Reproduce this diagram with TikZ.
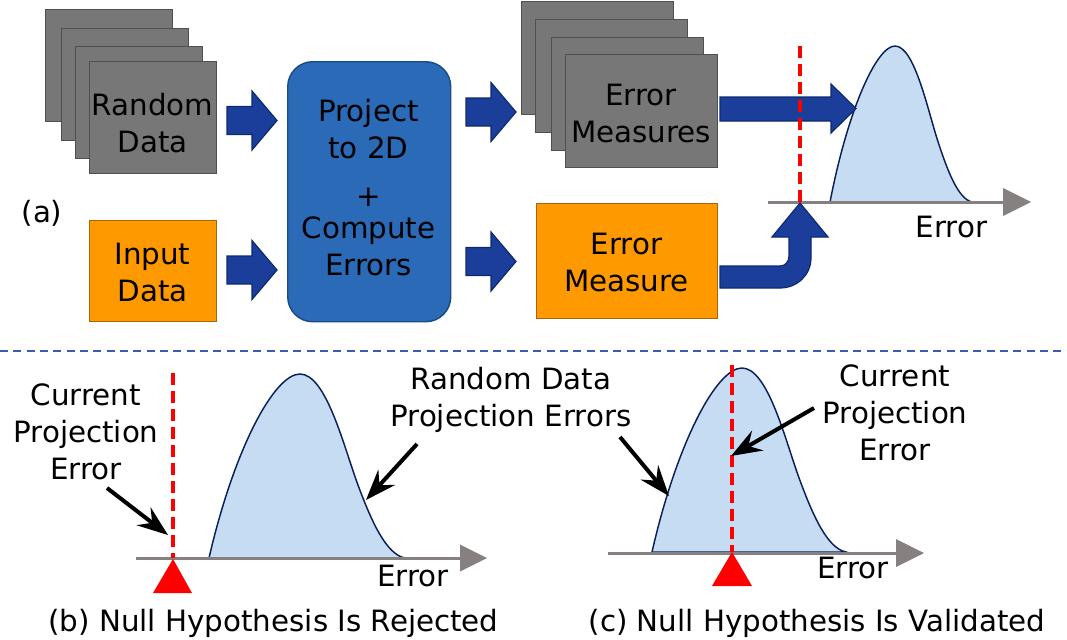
\documentclass[tikz,border=0pt]{standalone}
\usepackage{fontspec}
\setmainfont{DejaVu Sans}
\usetikzlibrary{arrows.meta}
\definecolor{boxgray}{HTML}{777777}
\definecolor{grayborder}{HTML}{505050}
\definecolor{orangefill}{HTML}{FF9900}
\definecolor{orangeborder}{HTML}{A8640A}
\definecolor{projfill}{HTML}{2A6AB6}
\definecolor{projborder}{HTML}{1B4C86}
\definecolor{arrfill}{HTML}{1A3E9A}
\definecolor{arrborder}{HTML}{0E2A6E}
\definecolor{bellfill}{HTML}{C5DCF2}
\definecolor{bellline}{HTML}{0B1F5B}
\definecolor{axisgray}{HTML}{868080}
\definecolor{sepblue}{HTML}{3A5BB0}
\newcommand{\blockarr}[2]{%
  \draw[barrow] (#1-50,#2-14) -- (#1-25,#2-14) -- (#1-25,#2-29.5) -- (#1,#2)
    -- (#1-25,#2+29.5) -- (#1-25,#2+14) -- (#1-50,#2+14) -- cycle;}
\newcommand{\bellcurve}[5]{%
  \draw[bell] (#1,#2) .. controls (#1+0.28*#3,#2-0.6*#5) and (#1+0.72*#3,#2-#5) .. (#1+#3,#2-#5)
    .. controls (#1+#3+0.25*#4,#2-#5) and (#1+#3+0.42*#4,#2-0.6*#5) .. (#1+#3+0.55*#4,#2-0.4*#5)
    .. controls (#1+#3+0.68*#4,#2-0.2*#5) and (#1+#3+0.82*#4,#2-0.02*#5) .. (#1+#3+#4,#2) -- cycle;}
\begin{document}
\begin{tikzpicture}[x=0.75pt,y=-0.75pt,
  sz/.style 2 args={minimum width=#1*0.75pt, minimum height=#2*0.75pt, anchor=north west, inner sep=0pt},
  graybox/.style={draw=grayborder, fill=boxgray, line width=1.1pt},
  orangebox/.style={draw=orangeborder, fill=orangefill, line width=1.1pt},
  projbox/.style={draw=projborder, fill=projfill, line width=1.1pt, rounded corners=18.75pt},
  barrow/.style={draw=arrborder, fill=arrfill, line width=0.9pt},
  bell/.style={draw=bellline, fill=bellfill, line width=1.1pt},
  axisline/.style={draw=axisgray, line width=2.25pt},
  axishead/.style={fill=axisgray},
  reddash/.style={draw=red, line width=2.7pt, dash pattern=on 9pt off 4.5pt},
  redtri/.style={fill=red},
  blk/.style={draw=black, line width=3pt, -{Stealth[length=23pt,width=17pt,inset=8pt]}},
  lbl/.style={align=center, inner sep=0pt, font=\fontsize{22}{27.75}\selectfont},
]
\useasboundingbox (0,0) rectangle (1067,639);

% ---------- (a) ----------
\node[lbl, anchor=base] (alabel) at (42,222) {(a)};

% Random data stack
\node[graybox, sz={127}{112}] (rd1) at (45,9) {};
\node[graybox, sz={127}{112}] (rd2) at (61,28) {};
\node[graybox, sz={127}{112}] (rd3) at (75,46) {};
\node[graybox, sz={127}{112}] (rd4) at (89,61) {};
\node[lbl] (rdtext) at (152.5,127) {\strut Random\\\strut Data};

% Input data
\node[orangebox, sz={127}{101}] (inbox) at (89,220) {};
\node[lbl] (intext) at (152.5,276) {\strut Input\\\strut Data};

% Projection box
\node[projbox, sz={163}{260}] (proj) at (287,61) {};
\node[lbl] (projtext1) at (368.5,133) {\strut Project\\\strut to 2D};
\node[lbl, anchor=base] (plus) at (368.5,206) {+};
\node[lbl] (projtext2) at (368.5,250) {\strut Compute\\\strut Errors};

% block arrows
\blockarr{277}{120.5}
\blockarr{277}{270}
\blockarr{516}{112}
\blockarr{516}{261.5}

% Error measures stack
\node[graybox, sz={152}{113}] (em1) at (521,1) {};
\node[graybox, sz={152}{113}] (em2) at (535,19) {};
\node[graybox, sz={152}{113}] (em3) at (551,37) {};
\node[graybox, sz={152}{113}] (em4) at (565,54) {};
\node[lbl] (emtext) at (641,117) {\strut Error\\\strut Measures};

% Error measure (orange)
\node[orangebox, sz={181}{115}] (embox) at (536,203) {};
\node[lbl] (embtext) at (626.5,266) {\strut Error\\\strut Measure};

% top distribution
\bellcurve{830}{202}{65}{77}{156}
\coordinate (ta0) at (768,202);
\coordinate (ta1) at (1004,202);
\draw[axisline] (ta0) -- (ta1);
\fill[axishead] (1003,188) -- (1031,202) -- (1003,216) -- cycle;
\node[lbl, anchor=base] (errtop) at (951.5,237) {Error};

% big arrow to distribution
\draw[barrow] (720,97) -- (831,97) -- (831,84) -- (856,108.5) -- (831,133) -- (831,121) -- (720,121) -- cycle;
% curved arrow
\draw[barrow] (720,266) -- (780,266) .. controls (785.5,266) and (789,261.5) .. (789,256) -- (789,237)
  -- (772,237) -- (800,203) -- (828,237) -- (811,237) -- (811,258)
  .. controls (811,275) and (797,288) .. (780,288) -- (720,288) -- cycle;
\coordinate (rt0) at (800,46);
\coordinate (rt1) at (800,202);
\draw[reddash] (rt0) -- (rt1);

% separator
\coordinate (s0) at (0,351);
\coordinate (s1) at (1067,351);
\draw[sepblue, line width=1.1pt, dash pattern=on 6pt off 4pt] (s0) -- (s1);

% ---------- (b) ----------
\bellcurve{209}{558}{91}{105}{184}
\coordinate (ba0) at (136,558);
\coordinate (ba1) at (461,558);
\draw[axisline] (ba0) -- (ba1);
\fill[axishead] (460,544.5) -- (487,558) -- (460,571.5) -- cycle;
\coordinate (bd0) at (173,373);
\coordinate (bd1) at (173,558);
\draw[reddash] (bd0) -- (bd1);
\fill[redtri] (173,559) -- (192,593) -- (153,593) -- cycle;
\node[lbl] (bcur) at (86,435) {\strut Current\\\strut Projection\\\strut Error};
\node[lbl] (rdpe) at (511,400.5) {\strut Random Data\\\strut Projection Errors};
\node[lbl, anchor=base] (berr) at (413,586) {Error};
\coordinate (bcs) at (107,488);
\coordinate (bce) at (168,535);
\draw[blk] (bcs) -- (bce);
\coordinate (brs) at (417,444);
\coordinate (bre) at (366,500);
\draw[blk] (brs) -- (bre);
\node[lbl, anchor=base] (bcap) at (273.5,631) {(b) Null Hypothesis Is Rejected};

% ---------- (c) ----------
\bellcurve{652}{552}{90}{104}{184}
\coordinate (ca0) at (608,553);
\coordinate (ca1) at (897,553);
\draw[axisline] (ca0) -- (ca1);
\fill[axishead] (896,539) -- (924,553) -- (896,567) -- cycle;
\coordinate (cd0) at (732,365);
\coordinate (cd1) at (732,552);
\draw[reddash] (cd0) -- (cd1);
\fill[redtri] (732,552) -- (752,586) -- (712,586) -- cycle;
\node[lbl] (ccur) at (895,416) {\strut Current\\\strut Projection\\\strut Error};
\node[lbl, anchor=base] (cerr) at (853,578) {Error};
\coordinate (crs) at (620,437);
\coordinate (cre) at (669,496);
\draw[blk] (crs) -- (cre);
\coordinate (ccs) at (814,408);
\coordinate (cce) at (731,456);
\draw[blk] (ccs) -- (cce);
\node[lbl, anchor=base] (ccap) at (817,631) {(c) Null Hypothesis Is Validated};
\end{tikzpicture}
\end{document}
